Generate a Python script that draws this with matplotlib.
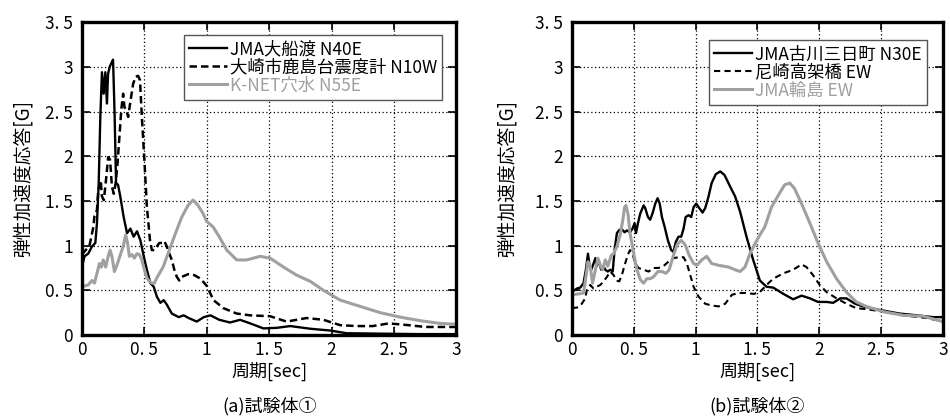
import matplotlib
matplotlib.use("Agg")
import matplotlib.pyplot as plt

plt.rcParams["font.family"] = ["Noto Sans CJK JP", "DejaVu Sans"]

GRAY = "#a0a0a0"

# ---- (a) specimen 1 ----
ofunato_t = [0.0, 0.02, 0.05, 0.08, 0.107, 0.12, 0.134, 0.147, 0.16, 0.174, 0.187, 0.2, 0.209,
             0.222, 0.235, 0.249, 0.262, 0.273, 0.289, 0.307, 0.334, 0.361, 0.388, 0.414, 0.441,
             0.468, 0.495, 0.52, 0.548, 0.575, 0.6, 0.628, 0.655, 0.68, 0.72, 0.775, 0.815, 0.855,
             0.92, 0.976, 1.03, 1.1, 1.187, 1.267, 1.348, 1.454, 1.56, 1.67, 1.83, 1.99, 2.12,
             2.4, 2.7, 3.0]
ofunato_g = [0.76, 0.88, 0.91, 0.99, 1.03, 1.25, 1.70, 2.44, 2.94, 2.70, 2.94, 2.59, 2.92,
             3.00, 3.04, 3.08, 2.44, 1.70, 1.68, 1.55, 1.32, 1.14, 1.19, 1.10, 1.16,
             1.06, 0.88, 0.73, 0.58, 0.54, 0.43, 0.36, 0.39, 0.34, 0.24, 0.20, 0.22, 0.19,
             0.15, 0.20, 0.22, 0.17, 0.14, 0.17, 0.13, 0.074, 0.08, 0.10, 0.07, 0.05, 0.02,
             0.015, 0.01, 0.01]

osaki_t = [0.0, 0.03, 0.06, 0.09, 0.1, 0.12, 0.13, 0.15, 0.16, 0.175, 0.19, 0.21, 0.225, 0.24,
           0.255, 0.27, 0.285, 0.30, 0.315, 0.33, 0.34, 0.355, 0.37, 0.39, 0.41, 0.43, 0.45,
           0.465, 0.48, 0.50, 0.52, 0.545, 0.56, 0.58, 0.6, 0.62, 0.645, 0.66, 0.68, 0.70, 0.72,
           0.74, 0.76, 0.78, 0.80, 0.85, 0.9, 0.95, 1.0, 1.054, 1.134, 1.24, 1.348, 1.508,
           1.64, 1.80, 1.935, 2.07, 2.2, 2.33, 2.46, 2.62, 2.75, 2.91, 3.0]
osaki_g = [0.90, 0.95, 1.00, 1.20, 1.33, 1.40, 1.62, 1.73, 1.55, 1.51, 1.70, 1.99, 1.96, 1.66,
           1.58, 1.70, 1.92, 2.22, 2.52, 2.70, 2.55, 2.52, 2.44, 2.63, 2.81, 2.89, 2.90,
           2.85, 2.44, 1.96, 1.44, 1.06, 0.95, 0.95, 0.99, 1.03, 1.03, 1.05, 0.99, 0.91, 0.84,
           0.73, 0.65, 0.61, 0.65, 0.68, 0.67, 0.63, 0.55, 0.39, 0.30, 0.24, 0.22, 0.21,
           0.15, 0.19, 0.17, 0.11, 0.10, 0.10, 0.13, 0.11, 0.09, 0.09, 0.09]

anamizu_t = [0.0, 0.05, 0.08, 0.1, 0.12, 0.14, 0.155, 0.17, 0.19, 0.21, 0.225, 0.24, 0.26, 0.285,
             0.31, 0.33, 0.35, 0.365, 0.38, 0.4, 0.42, 0.44, 0.46, 0.48, 0.5, 0.52, 0.54, 0.56,
             0.58, 0.6, 0.65, 0.7, 0.75, 0.8, 0.85, 0.89, 0.93, 0.97, 1.0, 1.05, 1.1, 1.16,
             1.24, 1.32, 1.428, 1.508, 1.615, 1.72, 1.83, 1.935, 2.07, 2.23, 2.39, 2.55, 2.71,
             2.87, 3.0]
anamizu_g = [0.54, 0.56, 0.61, 0.58, 0.69, 0.80, 0.76, 0.84, 0.76, 0.88, 0.95, 0.88, 0.71, 0.80,
             0.91, 0.99, 1.12, 1.03, 0.88, 0.90, 0.86, 0.91, 0.90, 0.84, 0.73, 0.64, 0.60, 0.58,
             0.58, 0.64, 0.76, 0.95, 1.14, 1.32, 1.45, 1.51, 1.45, 1.36, 1.27, 1.21, 1.10, 0.95,
             0.84, 0.84, 0.88, 0.86, 0.76, 0.67, 0.60, 0.50, 0.39, 0.32, 0.25, 0.20, 0.16,
             0.13, 0.12]

# ---- (b) specimen 2 ----
furukawa_t = [0.0, 0.04, 0.067, 0.094, 0.113, 0.13, 0.143, 0.156, 0.175, 0.19, 0.2, 0.22, 0.237,
              0.256, 0.27, 0.29, 0.31, 0.33, 0.345, 0.364, 0.38, 0.40, 0.426, 0.445, 0.47, 0.49,
              0.507, 0.518, 0.534, 0.553, 0.58, 0.593, 0.615, 0.633, 0.652, 0.674, 0.693, 0.71,
              0.728, 0.75, 0.776, 0.803, 0.822, 0.84, 0.862, 0.884, 0.903, 0.92, 0.943, 0.965,
              0.984, 1.005, 1.03, 1.057, 1.078, 1.105, 1.13, 1.164, 1.2, 1.234, 1.28, 1.32, 1.36,
              1.412, 1.466, 1.52, 1.574, 1.628, 1.71, 1.789, 1.857, 1.925, 1.99, 2.06, 2.113,
              2.17, 2.22, 2.29, 2.355, 2.49, 2.65, 2.79, 2.92, 3.0]
furukawa_g = [0.48, 0.52, 0.53, 0.58, 0.73, 0.91, 0.77, 0.73, 0.80, 0.86, 0.77, 0.82, 0.73,
              0.77, 0.73, 0.71, 0.73, 0.71, 0.95, 1.14, 1.17, 1.19, 1.15, 1.17, 1.15, 1.19,
              1.25, 1.14, 1.25, 1.36, 1.45, 1.42, 1.32, 1.29, 1.36, 1.47, 1.53, 1.47,
              1.32, 1.21, 1.06, 0.95, 0.93, 1.04, 1.10, 1.10, 1.19, 1.32, 1.34, 1.32,
              1.43, 1.47, 1.42, 1.37, 1.42, 1.55, 1.70, 1.80, 1.83, 1.79, 1.66, 1.55, 1.38,
              1.10, 0.84, 0.61, 0.54, 0.53, 0.46, 0.40, 0.44, 0.41, 0.37, 0.37, 0.36,
              0.41, 0.41, 0.35, 0.32, 0.28, 0.24, 0.22, 0.20, 0.20]

amagasaki_t = [0.0, 0.054, 0.08, 0.108, 0.12, 0.148, 0.175, 0.2, 0.23, 0.256, 0.283, 0.31, 0.337,
               0.364, 0.383, 0.404, 0.426, 0.453, 0.47, 0.49, 0.512, 0.539, 0.58, 0.62, 0.66,
               0.70, 0.74, 0.78, 0.822, 0.862, 0.903, 0.93, 0.957, 0.984, 1.024, 1.078, 1.13,
               1.186, 1.24, 1.294, 1.35, 1.40, 1.47, 1.52, 1.574, 1.628, 1.71, 1.789, 1.857,
               1.897, 1.95, 2.004, 2.06, 2.14, 2.22, 2.30, 2.38, 2.52, 2.68, 2.87, 3.0]
amagasaki_g = [0.30, 0.31, 0.35, 0.41, 0.50, 0.56, 0.52, 0.54, 0.56, 0.60, 0.65, 0.71, 0.67,
               0.61, 0.60, 0.67, 0.78, 0.90, 0.95, 0.91, 0.80, 0.75, 0.73, 0.71, 0.75,
               0.75, 0.77, 0.82, 0.86, 0.87, 0.87, 0.80, 0.67, 0.54, 0.43, 0.35, 0.33,
               0.32, 0.35, 0.45, 0.47, 0.47, 0.46, 0.48, 0.56, 0.63, 0.69, 0.73, 0.79,
               0.76, 0.67, 0.56, 0.48, 0.41, 0.35, 0.30, 0.29, 0.26, 0.22, 0.19, 0.15]

wajima_t = [0.0, 0.054, 0.094, 0.113, 0.13, 0.148, 0.167, 0.19, 0.21, 0.23, 0.248, 0.27, 0.29,
            0.318, 0.337, 0.364, 0.39, 0.41, 0.426, 0.437, 0.453, 0.47, 0.50, 0.526, 0.553,
            0.58, 0.606, 0.633, 0.66, 0.695, 0.728, 0.76, 0.787, 0.814, 0.85, 0.884, 0.916,
            0.949, 0.984, 1.01, 1.05, 1.09, 1.13, 1.186, 1.267, 1.32, 1.36, 1.40, 1.44, 1.48,
            1.52, 1.56, 1.614, 1.668, 1.72, 1.762, 1.80, 1.857, 1.925, 1.99, 2.06, 2.14, 2.22,
            2.30, 2.38, 2.52, 2.68, 2.84, 3.0]
wajima_g = [0.45, 0.46, 0.47, 0.65, 0.82, 0.77, 0.58, 0.73, 0.86, 0.78, 0.73, 0.84, 0.77,
            0.89, 0.91, 0.99, 1.12, 1.27, 1.43, 1.45, 1.36, 1.14, 0.91, 0.73, 0.62,
            0.58, 0.63, 0.63, 0.65, 0.71, 0.71, 0.69, 0.73, 0.86, 1.01, 1.06, 1.01,
            0.89, 0.80, 0.78, 0.84, 0.88, 0.80, 0.78, 0.76, 0.73, 0.71, 0.76, 0.91, 1.02,
            1.12, 1.21, 1.43, 1.56, 1.68, 1.70, 1.64, 1.47, 1.25, 1.03, 0.82, 0.63, 0.48,
            0.37, 0.32, 0.26, 0.22, 0.21, 0.15]

x_ticks = [0, 0.5, 1, 1.5, 2, 2.5, 3]
x_labels = ["0", "0. 5", "1", "1. 5", "2", "2. 5", "3"]
y_ticks = [0, 0.5, 1, 1.5, 2, 2.5, 3, 3.5]
y_labels = ["0", "0. 5", "1", "1. 5", "2", "2. 5", "3", "3. 5"]


def style_axes(ax, ylabel_x):
    ax.set_xlim(0, 3)
    ax.set_ylim(0, 3.5)
    ax.set_xticks(x_ticks, x_labels, fontsize=12.5)
    ax.set_yticks(y_ticks, y_labels, fontsize=12.5)
    ax.tick_params(direction="in", length=6, width=1.2, top=True, right=True)
    ax.tick_params(axis="x", pad=4)
    ax.tick_params(axis="y", pad=6.5)
    ax.grid(True, color="black", linestyle=(0, (1, 2)), linewidth=0.9)
    for sp in ax.spines.values():
        sp.set_linewidth(2.4)
    ax.set_ylabel("弾性加速度応答[G]", fontsize=13.5)
    ax.yaxis.set_label_coords(ylabel_x, 0.5)
    ax.set_xlabel("周期[sec]", fontsize=13)
    ax.xaxis.set_label_coords(0.5, -0.085)


def add_legend(ax, anchor):
    leg = ax.legend(loc="upper right", bbox_to_anchor=anchor, borderaxespad=0,
                    fontsize=12.5, frameon=True, fancybox=False, handlelength=2.2,
                    handletextpad=0.15, labelspacing=0.0, borderpad=0.3)
    leg.get_frame().set_edgecolor("#555555")
    leg.get_frame().set_linewidth(1.0)
    leg.get_frame().set_alpha(1)
    leg.get_texts()[2].set_color(GRAY)


fig = plt.figure(figsize=(9.5, 4.16), dpi=100)

ax1 = fig.add_axes([0.0863, 0.1947, 0.394, 0.752])
ax1.plot(ofunato_t, ofunato_g, color="black", lw=1.7, label="JMA大船渡 N40E")
ax1.plot(osaki_t, osaki_g, color="black", lw=1.8, ls=(0, (3, 1.6)), label="大崎市鹿島台震度計 N10W")
ax1.plot(anamizu_t, anamizu_g, color=GRAY, lw=2.2, label="K-NET穴水 N55E")
style_axes(ax1, -0.13)
add_legend(ax1, (0.963, 0.958))

ax2 = fig.add_axes([0.602, 0.1947, 0.3905, 0.752])
ax2.plot(furukawa_t, furukawa_g, color="black", lw=1.7, label="JMA古川三日町 N30E")
ax2.plot(amagasaki_t, amagasaki_g, color="black", lw=1.5, ls=(0, (3, 2)), label="尼崎高架橋 EW")
ax2.plot(wajima_t, wajima_g, color=GRAY, lw=2.2, label="JMA輪島 EW")
style_axes(ax2, -0.145)
add_legend(ax2, (0.957, 0.942))

for ax, cap in ((ax1, "(a)試験体①"), (ax2, "(b)試験体②")):
    pos = ax.get_position()
    fig.text((pos.x0 + pos.x1) / 2, 0.024, cap, ha="center", va="center", fontsize=13)

fig.savefig("out.png", dpi=100)
